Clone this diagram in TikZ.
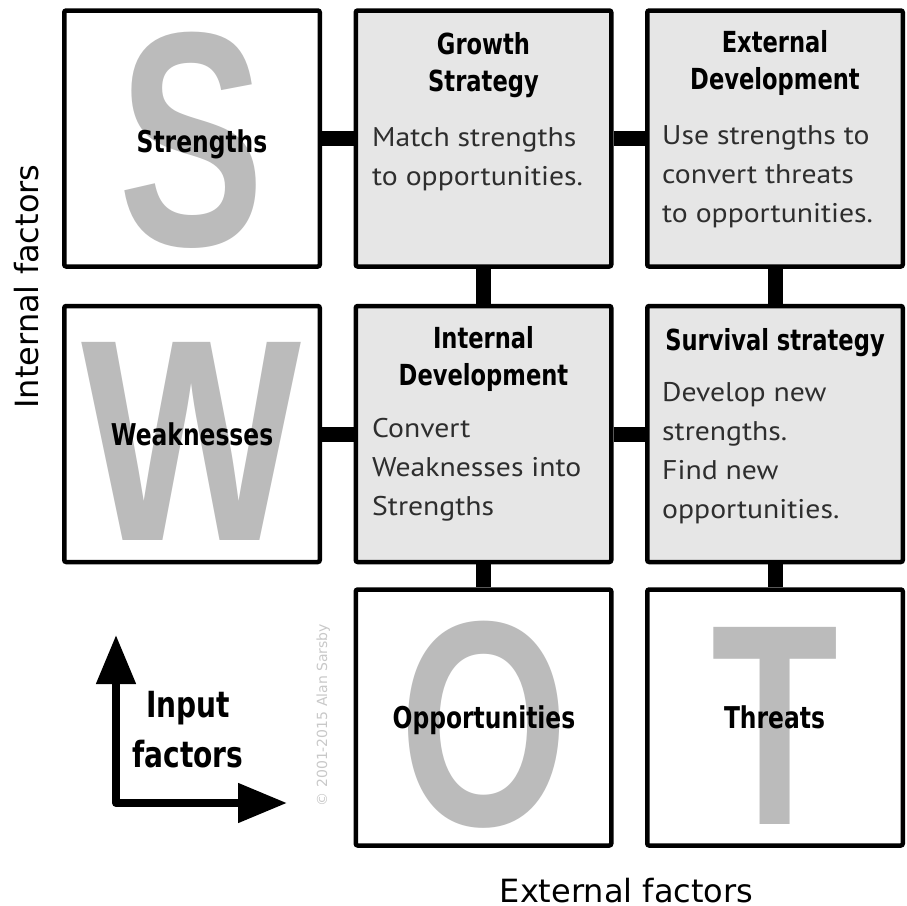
\documentclass[tikz,border=0pt]{standalone}
\usepackage{fontspec}
\usepackage{graphicx}
\usetikzlibrary{arrows.meta}

\setmainfont{DejaVu Sans}
\newfontfamily\headfont{DejaVu Sans}[FakeStretch=0.78]
\newfontfamily\notefont{PT Sans}[FakeStretch=1.1]
\newfontfamily\letterfont{Liberation Sans}

\definecolor{boxgray}{HTML}{E6E6E6}
\definecolor{lettergray}{HTML}{BBBBBB}
\definecolor{notegray}{HTML}{2E2E2E}
\definecolor{markgray}{HTML}{C8C8C8}

\begin{document}
\begin{tikzpicture}[x=1pt, y=-1pt,
swotbox/.style={draw, line width=4.5pt, rounded corners=2pt, minimum width=255.5pt, minimum height=256pt, inner sep=0pt, fill=white},
stratbox/.style={swotbox, fill=boxgray},
link/.style={line width=15pt},
bigletter/.style={text=lettergray, inner sep=0pt, font=\letterfont\bfseries},
factorname/.style={font=\headfont\bfseries\fontsize{30}{37}\selectfont, anchor=base, inner sep=0pt},
heading/.style={factorname, font=\headfont\bfseries\fontsize{29}{37}\selectfont, align=center},
note/.style={font=\notefont\fontsize{27}{39}\selectfont, text=notegray, align=left, anchor=base west, inner sep=0pt},
axisname/.style={font=\fontsize{32}{38}\selectfont, anchor=base, inner sep=0pt},
inarrow/.style={line width=8pt, line join=round, {Triangle[length=49pt,width=38pt]}-{Triangle[length=49pt,width=38pt]}}
]

\useasboundingbox (0,0) rectangle (906,906);

\def\colA{192}
\def\colB{483.5}
\def\colC{775}
\def\rowA{138.5}
\def\rowB{434}
\def\rowC{717.5}

\node[swotbox] (str) at (\colA,\rowA) {};
\node[stratbox] (grow) at (\colB,\rowA) {};
\node[stratbox] (extdev) at (\colC,\rowA) {};
\node[swotbox] (weak) at (\colA,\rowB) {};
\node[stratbox] (intdev) at (\colB,\rowB) {};
\node[stratbox] (surv) at (\colC,\rowB) {};
\node[swotbox] (opp) at (\colB,\rowC) {};
\node[swotbox] (thr) at (\colC,\rowC) {};

\draw[link] (str) -- (grow);
\draw[link] (grow) -- (extdev);
\draw[link] (grow) -- (intdev);
\draw[link] (extdev) -- (surv);
\draw[link] (weak) -- (intdev);
\draw[link] (intdev) -- (surv);
\draw[link] (intdev) -- (opp);
\draw[link] (surv) -- (thr);

\node[bigletter] (bigS) at (191.5,140.5) {\resizebox{146pt}{213pt}{S}};
\node[bigletter] (bigW) at (191.5,441) {\resizebox{220pt}{198pt}{W}};
\node[bigletter] (bigO) at (484,725) {\resizebox{169pt}{204pt}{O}};
\node[bigletter] (bigT) at (775,725.5) {\resizebox{127pt}{197pt}{T}};

\node[factorname] (strname) at (202,152) {Strengths};
\node[factorname] (weakname) at (192,445) {Weaknesses};
\node[factorname] (oppname) at (484,728) {Opportunities};
\node[factorname] (thrname) at (774.5,728) {Threats};

% base anchor sits on the last line
\node[heading] (growhead) at (\colB,91) {Growth\\Strategy};
\node[heading] (extdevhead) at (\colC,89) {External\\Development};
\node[heading] (intdevhead) at (\colB,385) {Internal\\Development};
\node[heading] (survhead) at (\colC,350) {Survival strategy};

\node[note] (grownote) at (372,185) {Match strengths\\to opportunities.};
\node[note] (extdevnote) at (662,222) {Use strengths to\\convert threats\\to opportunities.};
\node[note] (intdevnote) at (372,515) {Convert\\Weaknesses into\\Strengths};
\node[note] (survnote) at (662,518) {Develop new\\strengths.\\Find new\\opportunities.};

\node[axisname] (extaxis) at (626.5,902) {External factors};
\node[axisname, rotate=90] (intaxis) at (38,286.5) {Internal factors};

\coordinate (corner) at (116,803);
\coordinate (uptip) at (116,635);
\coordinate (righttip) at (287,803);
\draw[inarrow] (uptip) -- (corner) -- (righttip);
\node[heading, font=\headfont\bfseries\fontsize{36}{50}\selectfont] (inputname) at (188,767) {Input\\factors};

\node[axisname, rotate=90, font=\fontsize{14}{16}\selectfont, text=markgray] (mark) at (327,715) {\textcopyright{} 2001-2015 Alan Sarsby};
\end{tikzpicture}
\end{document}
